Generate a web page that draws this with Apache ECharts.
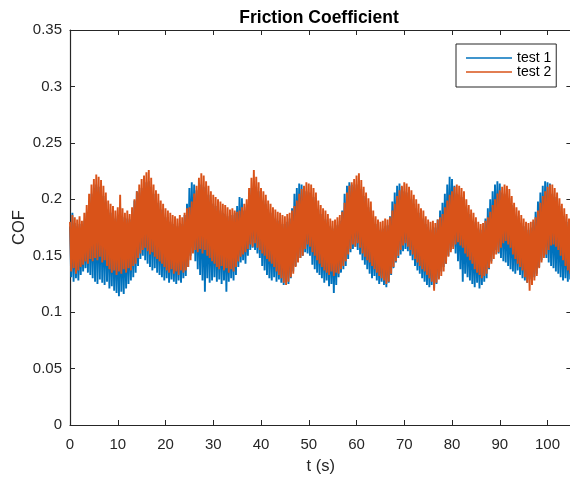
<!DOCTYPE html>
<html>
<head>
<meta charset="utf-8">
<script src="https://cdn.jsdelivr.net/npm/echarts@6/dist/echarts.min.js"></script>
<style>
html,body{margin:0;padding:0;background:#fff;}
#chart{width:570px;height:477px;}
</style>
</head>
<body>
<div id="chart"></div>
<script>
// Sample spacing (s) of the envelope readings below; t = index * tStep
const tStep = 0.5;

// test 1 (blue): upper and lower extremes, t = 0 .. 105 s
const test1Top = [
.176,.188,.179,.176,.178,.175,.181,.188,.197,.205,
.210,.213,.211,.208,.203,.198,.191,.188,.186,.183,
.185,.193,.184,.181,.183,.182,.190,.199,.207,.206,
.210,.213,.215,.216,.211,.205,.200,.197,.191,.188,
.184,.182,.180,.178,.178,.176,.179,.178,.186,.196,
.210,.215,.213,.208,.210,.213,.211,.207,.204,.199,
.196,.194,.192,.190,.188,.187,.185,.184,.186,.188,
.194,.202,.201,.190,.193,.202,.210,.215,.211,.207,
.202,.199,.196,.191,.188,.185,.183,.181,.180,.178,
.178,.180,.183,.192,.205,.210,.214,.213,.211,.207,
.206,.205,.202,.198,.191,.187,.184,.182,.179,.176,
.174,.175,.177,.181,.190,.205,.212,.215,.213,.210,
.213,.214,.209,.203,.198,.193,.190,.183,.178,.175,
.173,.174,.176,.177,.185,.198,.206,.212,.214,.211,
.207,.206,.203,.200,.196,.192,.188,.185,.183,.178,
.175,.173,.174,.175,.182,.190,.197,.205,.213,.220,
.218,.212,.205,.204,.202,.199,.192,.187,.183,.180,
.177,.174,.173,.176,.183,.192,.200,.207,.213,.216,
.214,.206,.205,.204,.201,.195,.189,.185,.182,.179,
.176,.174,.173,.175,.180,.189,.198,.206,.212,.216,
.215,.214,.205,.202,.198,.194,.189,.185,.180,.177,
.175];
const test1Bottom = [
.131,.127,.130,.128,.133,.136,.139,.135,.133,.130,
.127,.125,.129,.126,.124,.127,.121,.123,.119,.117,
.114,.118,.116,.121,.125,.128,.131,.135,.141,.147,
.150,.146,.143,.140,.137,.139,.135,.133,.131,.128,
.130,.126,.129,.127,.125,.128,.126,.130,.132,.140,
.150,.153,.145,.138,.133,.128,.118,.130,.126,.128,
.131,.127,.129,.125,.128,.118,.127,.130,.128,.133,
.140,.144,.146,.143,.150,.155,.157,.155,.152,.148,
.141,.137,.133,.130,.128,.131,.127,.129,.126,.124,
.127,.125,.130,.136,.141,.145,.148,.150,.153,.152,
.150,.142,.138,.135,.133,.130,.126,.128,.123,.125,
.117,.124,.131,.135,.138,.141,.147,.153,.156,.158,
.155,.151,.146,.142,.138,.134,.130,.132,.128,.125,
.127,.124,.122,.126,.133,.139,.144,.148,.151,.154,
.156,.154,.150,.146,.141,.137,.134,.130,.127,.124,
.122,.124,.121,.125,.130,.136,.140,.143,.150,.155,
.158,.152,.145,.138,.127,.134,.131,.128,.125,.122,
.126,.121,.124,.127,.130,.138,.145,.151,.155,.152,
.148,.145,.144,.141,.138,.136,.134,.137,.133,.130,
.128,.126,.129,.127,.131,.134,.140,.146,.150,.148,
.144,.141,.139,.136,.134,.131,.128,.130,.127,.129,
.131];

// test 2 (orange): upper and lower extremes, t = 0 .. 105 s
const test2Top = [
.180,.186,.184,.182,.185,.181,.188,.195,.205,.213,
.218,.222,.220,.217,.212,.206,.199,.196,.194,.190,
.193,.204,.192,.188,.190,.187,.193,.200,.207,.213,
.218,.221,.224,.226,.219,.213,.208,.205,.199,.196,
.192,.190,.188,.186,.185,.183,.186,.184,.188,.192,
.193,.198,.205,.212,.219,.223,.221,.216,.212,.207,
.204,.202,.200,.198,.196,.195,.193,.191,.192,.190,
.189,.190,.193,.196,.200,.210,.219,.226,.220,.215,
.210,.207,.204,.199,.196,.193,.191,.189,.188,.186,
.185,.187,.188,.190,.194,.199,.205,.209,.212,.215,
.214,.213,.210,.206,.199,.195,.192,.190,.187,.183,
.181,.182,.184,.186,.189,.197,.206,.212,.215,.218,
.221,.223,.217,.211,.206,.201,.198,.190,.185,.182,
.180,.181,.183,.182,.184,.190,.196,.203,.208,.212,
.215,.214,.211,.208,.204,.200,.196,.192,.190,.185,
.182,.180,.181,.179,.182,.184,.187,.193,.199,.204,
.207,.211,.213,.212,.210,.207,.200,.195,.191,.188,
.184,.180,.178,.179,.181,.184,.189,.195,.200,.205,
.208,.211,.213,.212,.209,.203,.197,.193,.190,.186,
.183,.180,.179,.180,.182,.184,.190,.197,.203,.207,
.211,.213,.213,.210,.206,.201,.196,.192,.187,.183,
.181];
const test2Bottom = [
.136,.139,.134,.137,.140,.142,.145,.143,.147,.145,
.148,.146,.149,.144,.146,.141,.138,.135,.137,.133,
.136,.134,.138,.135,.139,.137,.141,.143,.148,.152,
.155,.157,.154,.151,.153,.149,.147,.145,.143,.140,
.137,.135,.138,.134,.136,.133,.137,.135,.137,.140,
.146,.152,.155,.153,.156,.152,.155,.150,.148,.145,
.143,.140,.138,.141,.137,.139,.135,.138,.136,.140,
.145,.149,.151,.153,.156,.160,.158,.161,.157,.155,
.152,.150,.147,.145,.143,.140,.136,.133,.130,.126,
.124,.127,.131,.134,.140,.144,.148,.150,.156,.160,
.158,.153,.150,.146,.143,.140,.137,.135,.133,.136,
.132,.135,.134,.138,.141,.145,.151,.156,.160,.158,
.161,.157,.152,.149,.146,.144,.141,.138,.135,.132,
.130,.128,.125,.127,.134,.140,.145,.150,.155,.159,
.161,.158,.155,.151,.147,.144,.141,.138,.136,.133,
.130,.127,.119,.126,.129,.132,.136,.143,.149,.153,
.156,.160,.162,.159,.157,.152,.149,.146,.143,.138,
.135,.133,.130,.132,.134,.139,.143,.147,.151,.153,
.157,.161,.163,.160,.157,.151,.147,.143,.140,.137,
.131,.126,.119,.124,.128,.132,.139,.144,.148,.151,
.155,.159,.160,.158,.155,.150,.146,.141,.137,.134,
.132];

const seriesNames = ['test 1', 'test 2'];
const seriesColors = ['#0072BD', '#D95319'];
const xTicks = [0, 105, 10];      // min, max, interval
const yTicks = [0, 0.35, 0.05];   // min, max, interval

function zigzag(top, bottom) {
  const d = [];
  for (let i = 0; i < top.length; i++) {
    const t = i * tStep;
    d.push([t, top[i]]);
    d.push([t + tStep / 2, bottom[i]]);
  }
  return d;
}

const FONT = "'Liberation Sans', Arial, Helvetica, sans-serif";
const AX = '#262626';

const chart = echarts.init(document.getElementById('chart'), null, {renderer: 'canvas'});

function axisCommon(extra) {
  return Object.assign({
    type: 'value',
    axisLine: {show: true, onZero: false, lineStyle: {color: AX, width: 1.2}},
    axisTick: {show: true, inside: true, length: 5, lineStyle: {color: AX, width: 1}},
    splitLine: {show: false}
  }, extra);
}

chart.setOption({
  animation: false,
  backgroundColor: '#ffffff',
  textStyle: {fontFamily: FONT},
  title: {
    text: 'Friction Coefficient',
    left: 314, top: 4, textAlign: 'center',
    textStyle: {fontFamily: FONT, fontSize: 17.5, fontWeight: 'bold', color: '#000'}
  },
  grid: {left: 70, top: 30, width: 501.4, height: 395, containLabel: false, outerBoundsMode: 'none'},
  legend: {
    orient: 'vertical',
    left: 456, top: 44,
    padding: [7, 5, 8, 10],
    icon: 'rect',
    itemWidth: 46, itemHeight: 1.6, itemGap: 0,
    backgroundColor: '#fff',
    borderColor: AX, borderWidth: 1,
    textStyle: {fontFamily: FONT, fontSize: 14, color: '#000', lineHeight: 14, height: 14},
    data: seriesNames
  },
  xAxis: [
    axisCommon({
      min: xTicks[0], max: xTicks[1], interval: xTicks[2], position: 'bottom',
      axisLabel: {margin: 12, fontSize: 15, color: AX, fontFamily: FONT, showMaxLabel: false},
      name: 't (s)', nameLocation: 'middle', nameGap: 33, nameMoveOverlap: false,
      nameTextStyle: {fontFamily: FONT, fontSize: 16.5, color: AX}
    }),
    axisCommon({
      min: xTicks[0], max: xTicks[1], interval: xTicks[2], position: 'top',
      axisLabel: {show: false}
    })
  ],
  yAxis: [
    axisCommon({
      min: yTicks[0], max: yTicks[1], interval: yTicks[2], position: 'left',
      axisLabel: {margin: 8, fontSize: 15, color: AX, fontFamily: FONT},
      name: 'COF', nameLocation: 'middle', nameGap: 42, nameMoveOverlap: false,
      nameTextStyle: {fontFamily: FONT, fontSize: 16.5, color: AX}
    }),
    axisCommon({
      min: yTicks[0], max: yTicks[1], interval: yTicks[2], position: 'right',
      axisLabel: {show: false}
    })
  ],
  series: [
    {
      name: seriesNames[0], type: 'line',
      data: zigzag(test1Top, test1Bottom),
      symbol: 'none', showSymbol: false, sampling: null, clip: true,
      lineStyle: {color: seriesColors[0], width: 1.9},
      itemStyle: {color: seriesColors[0]}
    },
    {
      name: seriesNames[1], type: 'line',
      data: zigzag(test2Top, test2Bottom),
      symbol: 'none', showSymbol: false, sampling: null, clip: true,
      lineStyle: {color: seriesColors[1], width: 1.9},
      itemStyle: {color: seriesColors[1]}
    }
  ]
});
</script>
</body>
</html>
